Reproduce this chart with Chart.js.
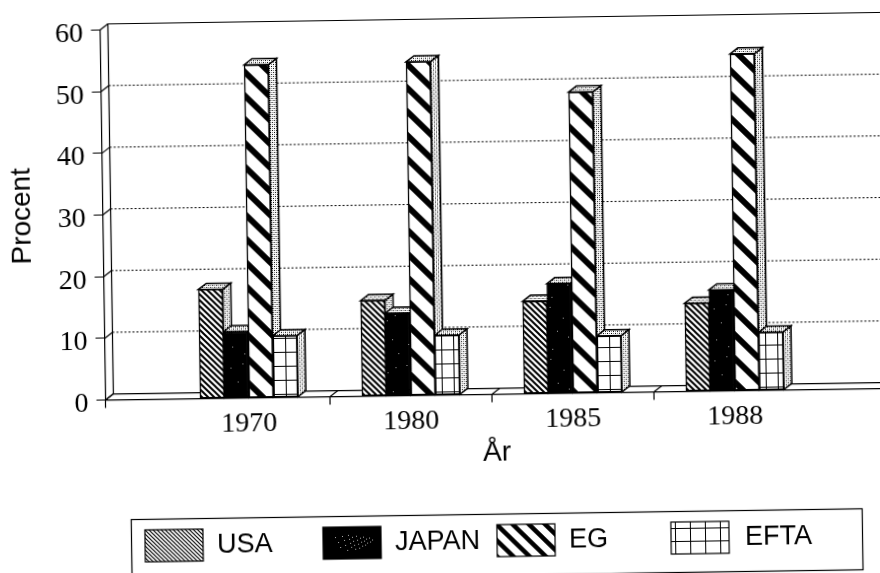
<!DOCTYPE html>
<html>
<head>
<meta charset="utf-8">
<style>
html, body { margin: 0; padding: 0; background: #fff; overflow: hidden; width: 880px; height: 573px; }
#chart { position: absolute; left: 0; top: 0; transform-origin: 0 0; transform: rotate(-0.85deg); }
</style>
<script src="https://cdn.jsdelivr.net/npm/chart.js@4"></script>
</head>
<body>
<canvas id="chart" width="900" height="600"></canvas>
<script>
var years = ["1970", "1980", "1985", "1988"];
var usa = [17.7, 15.5, 15, 14.3];
var japan = [10.8, 13.4, 17.8, 16.4];
var eg = [54, 54.1, 48.8, 54.6];
var efta = [10, 9.7, 9.2, 9.4];
var yTicks = [0, 10, 20, 30, 40, 50, 60];
var separators = [0.5, 1.5, 2.5];
var seriesNames = ["USA", "JAPAN", "EG", "EFTA"];

var DX = 8, DY = -6;
var SANS = "'Liberation Sans', Arial, sans-serif";
var SERIF = "'Liberation Serif', serif";

function tile(w, h, draw) {
    var c = document.createElement("canvas");
    c.width = w;
    c.height = h;
    var g = c.getContext("2d");
    g.fillStyle = "#fff";
    g.fillRect(0, 0, w, h);
    draw(g);
    return document.createElement("canvas").getContext("2d").createPattern(c, "repeat");
}

function stripes(size, width) {
    return tile(size, size, function (g) {
        g.strokeStyle = "#000";
        g.lineWidth = width;
        g.beginPath();
        g.moveTo(-size, 0); g.lineTo(size, size * 2);
        g.moveTo(0, 0); g.lineTo(size, size);
        g.moveTo(0, -size); g.lineTo(size * 2, size);
        g.stroke();
    });
}

function speckled(w, h, dots) {
    return tile(w, h, function (g) {
        g.fillStyle = "#000";
        g.fillRect(0, 0, w, h);
        g.fillStyle = "#aaa";
        dots.forEach(function (p) {
            g.fillRect(p[0], p[1], 1, 1);
        });
    });
}

function grid(w, h) {
    return tile(w, h, function (g) {
        g.fillStyle = "#000";
        g.fillRect(4, 0, 1, h);
        g.fillRect(0, 6, w, 1);
    });
}

var stipple = tile(4, 4, function (g) {
    g.fillStyle = "#000";
    g.fillRect(0, 0, 1, 1);
    g.fillRect(2, 2, 1, 1);
    g.fillStyle = "#777";
    g.fillRect(2, 0, 1, 1);
    g.fillRect(0, 2, 1, 1);
});

var barSpecks = [[5, 7], [17, 3], [30, 14], [38, 9], [12, 21], [24, 27], [35, 33], [7, 38], [19, 45], [41, 47]];
var legendSpecks = [[12, 10], [15, 15], [17, 20], [19, 9], [21, 13], [22, 18], [24, 23], [25, 8], [26, 12], [27, 16],
    [28, 20], [29, 10], [30, 14], [31, 18], [32, 22], [33, 9], [34, 13], [35, 17], [36, 21], [37, 11],
    [38, 15], [39, 19], [40, 10], [41, 14], [42, 18], [43, 12], [44, 16], [46, 11], [47, 15], [49, 13]];

var fills = [stripes(6, 2), speckled(44, 52, barSpecks), stripes(24, 6), grid(12, 14)];
var legendFills = [stripes(4, 1.2), speckled(58, 32, legendSpecks), stripes(16, 4.5), grid(15, 13)];

function makeDataset(name, values, fill) {
    return {
        label: name,
        data: values.map(function (v, i) { return { x: i, y: v }; }),
        backgroundColor: fill,
        borderColor: "#000",
        borderWidth: 1.5,
        borderSkipped: false,
        barThickness: 24.5
    };
}

function poly(c, pts, fill) {
    c.beginPath();
    pts.forEach(function (p, i) {
        if (i === 0) c.moveTo(p[0], p[1]); else c.lineTo(p[0], p[1]);
    });
    c.closePath();
    if (fill) { c.fillStyle = fill; c.fill(); }
    c.stroke();
}

var box3d = {
    id: "box3d",
    beforeDatasetsDraw: function (chart) {
        var c = chart.ctx, a = chart.chartArea;
        var ys = chart.scales.y, xs = chart.scales.x;
        c.save();
        c.strokeStyle = "#000";
        c.lineWidth = 1;

        // back wall grid
        c.setLineDash([2, 2]);
        yTicks.slice(1, -1).forEach(function (t) {
            var y = ys.getPixelForValue(t);
            c.beginPath();
            c.moveTo(a.left + DX, y + DY);
            c.lineTo(a.right, y + DY);
            c.stroke();
        });
        c.setLineDash([]);

        // left wall and top edge
        c.lineWidth = 1.2;
        c.beginPath();
        c.moveTo(a.left + DX, a.bottom + DY);
        c.lineTo(a.left + DX, a.top + DY);
        c.lineTo(a.right, a.top + DY);
        c.stroke();
        yTicks.forEach(function (t) {
            var y = ys.getPixelForValue(t);
            c.beginPath();
            c.moveTo(a.left, y);
            c.lineTo(a.left + DX, y + DY);
            c.stroke();
        });

        // floor
        c.beginPath();
        c.moveTo(a.left + DX, a.bottom + DY);
        c.lineTo(a.right, a.bottom + DY);
        c.moveTo(a.left, a.bottom);
        c.lineTo(a.right, a.bottom);
        c.stroke();
        [a.left].concat(separators.map(function (v) { return xs.getPixelForValue(v); }), [a.right]).forEach(function (x) {
            c.beginPath();
            c.moveTo(x, a.bottom + 8);
            c.lineTo(x, a.bottom);
            c.lineTo(x + DX, a.bottom + DY);
            c.stroke();
        });

        // bar side and top faces, left to right
        c.lineWidth = 1.5;
        years.forEach(function (_, i) {
            chart.data.datasets.forEach(function (_, d) {
                var b = chart.getDatasetMeta(d).data[i];
                var l = b.x - b.width / 2, r = b.x + b.width / 2, t = b.y, u = b.base;
                poly(c, [[r, t], [r + DX, t + DY], [r + DX, u + DY], [r, u]], stipple);
                poly(c, [[l, t], [l + DX, t + DY], [r + DX, t + DY], [r, t]], stipple);
            });
        });
        c.restore();
    },
    afterDraw: function (chart) {
        var c = chart.ctx;
        var itemX = [137, 315, 489, 663];
        var textX = [209, 387, 561, 737];
        c.save();
        c.strokeStyle = "#000";
        c.lineWidth = 1.2;
        c.strokeRect(123.5, 521.5, 731, 61);
        c.font = "27px " + SANS;
        c.textBaseline = "alphabetic";
        seriesNames.forEach(function (name, i) {
            // translate so the tile lines up with the swatch
            c.save();
            c.translate(itemX[i], 532);
            c.fillStyle = legendFills[i];
            c.fillRect(0, 0, 58, 32);
            c.strokeRect(0, 0, 58, 32);
            c.restore();
            c.fillStyle = "#000";
            c.fillText(name, textX[i], 555.5);
        });
        c.restore();
    }
};

new Chart(document.getElementById("chart").getContext("2d"), {
    type: "bar",
    data: {
        datasets: [
            makeDataset("USA", usa, fills[0]),
            makeDataset("JAPAN", japan, fills[1]),
            makeDataset("EG", eg, fills[2]),
            makeDataset("EFTA", efta, fills[3])
        ]
    },
    options: {
        responsive: false,
        animation: false,
        layout: { padding: { top: 31.5, right: 19, left: 0, bottom: 0 } },
        plugins: { legend: { display: false }, tooltip: { enabled: false } },
        scales: {
            x: {
                type: "linear",
                offset: false,
                min: -0.886,
                max: 3.938,
                afterBuildTicks: function (s) {
                    s.ticks = years.map(function (_, i) { return { value: i }; });
                },
                afterFit: function (s) { s.height = 198.4; },
                grid: { display: false },
                border: { display: false },
                ticks: {
                    autoSkip: false,
                    maxRotation: 0,
                    padding: 1,
                    color: "#000",
                    font: { family: SERIF, size: 28 },
                    callback: function (v) { return years[v]; }
                },
                title: {
                    display: true,
                    text: "År",
                    color: "#000",
                    font: { family: SANS, size: 28 },
                    padding: { top: 0, bottom: 123 }
                }
            },
            y: {
                min: 0,
                max: 60,
                afterFit: function (s) { s.width = 99.5; },
                afterBuildTicks: function (s) {
                    s.ticks = yTicks.map(function (v) { return { value: v }; });
                },
                grid: { drawOnChartArea: false, color: "#000", tickLength: 9 },
                border: { color: "#000", width: 1.2 },
                ticks: {
                    padding: 8,
                    labelOffset: 4,
                    color: "#000",
                    font: { family: SERIF, size: 28 }
                },
                title: {
                    display: true,
                    text: "Procent",
                    color: "#000",
                    font: { family: SANS, size: 28 },
                    padding: { top: 2, bottom: 0 }
                }
            }
        }
    },
    plugins: [box3d]
});
</script>
</body>
</html>
